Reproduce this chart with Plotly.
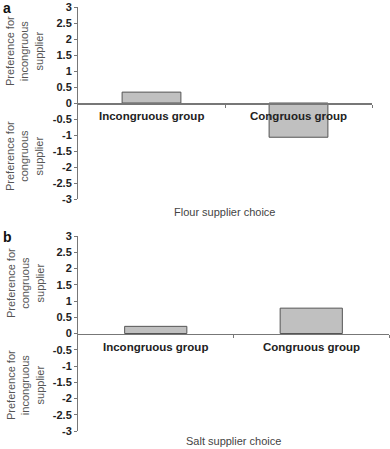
import plotly.graph_objects as go

categories = ["Incongruous group", "Congruous group"]
flour_values = [0.34, -1.07]
salt_values = [0.22, 0.78]
ytick_vals = [3, 2.5, 2, 1.5, 1, 0.5, 0, -0.5, -1, -1.5, -2, -2.5, -3]
ytick_text = ["3", "2.5", "2", "1.5", "1", "0.5", "0", "-0.5", "-1", "-1.5", "-2", "-2.5", "-3"]
panel_a_title = "Flour supplier choice"
panel_b_title = "Salt supplier choice"
a_upper = "Preference for<br>incongruous<br>supplier"
a_lower = "Preference for<br>congruous<br>supplier"
b_upper = "Preference for<br>congruous<br>supplier"
b_lower = "Preference for<br>incongruous<br>supplier"

W, H = 390, 449
ML, MR, MT, MB = 78, 1, 7, 18
PW = W - ML - MR
PH = H - MT - MB

def py(px):  # pixel y (from top) -> paper
    return (H - MB - px) / PH

def pxx(px):
    return (px - ML) / PW

FONT = "Liberation Sans, Arial, sans-serif"
AXC = "#777777"
TXT = "#222222"
BAR = "#c0c0c0"
EDGE = "#555555"

xpos = list(range(len(categories)))

fig = go.Figure()
fig.add_trace(go.Bar(x=xpos, y=flour_values, width=0.4, marker=dict(color=BAR, line=dict(color=EDGE, width=1)),
                     xaxis="x", yaxis="y", showlegend=False, hoverinfo="skip"))
fig.add_trace(go.Bar(x=xpos, y=salt_values, width=0.4, marker=dict(color=BAR, line=dict(color=EDGE, width=1)),
                     xaxis="x2", yaxis="y2", showlegend=False, hoverinfo="skip"))

ya_dom = [py(199), py(7)]
yb_dom = [py(431), py(236)]

yax = dict(range=[-3, 3], tickvals=ytick_vals, ticktext=ytick_text, showgrid=False, zeroline=False,
           showline=True, linecolor=AXC, linewidth=1, ticks="outside", ticklen=3, tickcolor=AXC,
           automargin=False,
           tickfont=dict(family=FONT, size=11, color=TXT, weight="bold"))

xcommon = dict(range=[-0.5, 1.5], anchor="free", showline=True, linecolor=AXC, linewidth=1.5,
               tickvals=[0.5, 1.5], ticks="outside", ticklen=3, tickcolor=AXC, showticklabels=False,
               showgrid=False, zeroline=False, automargin=False)

fig.update_layout(
    template="none",
    width=W, height=H, margin=dict(l=ML, r=MR, t=MT, b=MB, pad=0, autoexpand=False),
    plot_bgcolor="white", paper_bgcolor="white", bargap=0,
    xaxis=dict(domain=[0, pxx(372)], position=(ya_dom[0] + ya_dom[1]) / 2, **xcommon),
    xaxis2=dict(domain=[0, 1], position=(yb_dom[0] + yb_dom[1]) / 2, **xcommon),
    yaxis=dict(domain=ya_dom, anchor="x", **yax),
    yaxis2=dict(domain=yb_dom, anchor="x2", **yax),
)

ann = []
for xr, yr in [("x", "y"), ("x2", "y2")]:
    for i, c in enumerate(categories):
        ann.append(dict(x=i, y=0, xref=xr, yref=yr, text=c, showarrow=False, xanchor="center", yanchor="top",
                        yshift=-5, font=dict(family=FONT, size=11.5, color=TXT, weight="bold")))

ann.append(dict(x=(0 + pxx(372)) / 2, y=py(212), xref="paper", yref="paper", text=panel_a_title, showarrow=False,
                xanchor="center", yanchor="middle", font=dict(family=FONT, size=11, color="#444444")))
ann.append(dict(x=0.5, y=py(441), xref="paper", yref="paper", text=panel_b_title, showarrow=False,
                xanchor="center", yanchor="middle", font=dict(family=FONT, size=11, color="#444444")))
ann.append(dict(x=pxx(1), y=py(8), xref="paper", yref="paper", text="<b>a</b>", showarrow=False,
                xanchor="left", yanchor="middle", font=dict(family=FONT, size=14, color="#111111")))
ann.append(dict(x=pxx(1), y=py(237), xref="paper", yref="paper", text="<b>b</b>", showarrow=False,
                xanchor="left", yanchor="middle", font=dict(family=FONT, size=14, color="#111111")))
for txt, ypix in [(a_upper, 51), (a_lower, 156), (b_upper, 283), (b_lower, 385)]:
    ann.append(dict(x=pxx(25), y=py(ypix), xref="paper", yref="paper", text=txt, showarrow=False,
                    xanchor="center", yanchor="middle",
                    textangle=-90, font=dict(family=FONT, size=11, color="#555555")))

fig.update_layout(annotations=ann)
fig.write_html("out.html", config={"displayModeBar": False, "staticPlot": True},
               post_script="document.body.style.margin='0';document.body.style.overflow='hidden';")
